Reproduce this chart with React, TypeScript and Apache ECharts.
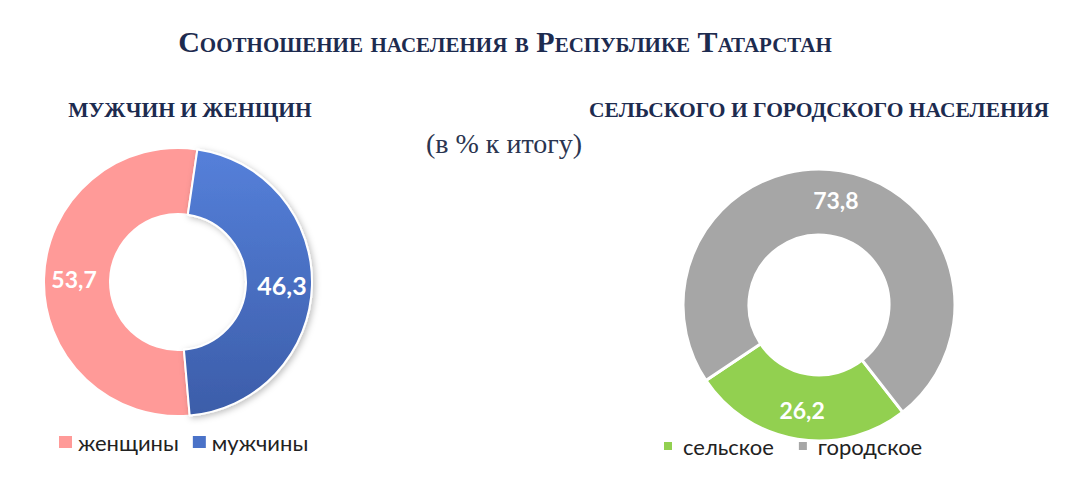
import { useRef, useEffect } from "react";
import * as echarts from "echarts";

const sexNames = ["женщины", "мужчины"];
const sexValues = [53.7, 46.3];
const areaNames = ["сельское", "городское"];
const areaValues = [26.2, 73.8];

const mainTitle = "Соотношение населения в Республике Татарстан";
const leftTitle = "МУЖЧИН И ЖЕНЩИН";
const rightTitle = "СЕЛЬСКОГО И ГОРОДСКОГО НАСЕЛЕНИЯ";
const unitNote = "(в % к итогу)";

const NAVY = "#1d2b4f";
const blueGrad = {
    type: "linear",
    x: 0,
    y: 0,
    x2: 0,
    y2: 1,
    colorStops: [
        { offset: 0, color: "#5580da" },
        { offset: 1, color: "#3c5da9" },
    ],
};

const fmt = (v: number) => String(v).replace(".", ",");

function App() {
    const chartRef = useRef<HTMLDivElement | null>(null);

    useEffect(() => {
        if (!chartRef.current) return;
        const chart = echarts.init(chartRef.current, null, { renderer: "svg" });

        const labelStyle = {
            show: true,
            position: "inside",
            color: "#fff",
            fontFamily: "Lato",
            fontWeight: "bold",
            fontSize: 23,
            formatter: (p: any) => fmt(p.value),
        };

        const legendText = { fontFamily: "Lato", fontSize: 22, color: "#222" };

        chart.setOption({
            animation: false,
            backgroundColor: "#fff",
            graphic: [
                {
                    type: "text",
                    x: 505,
                    y: 41,
                    style: {
                        text: mainTitle,
                        font: "small-caps bold 30px 'Liberation Serif'",
                        fill: NAVY,
                        textAlign: "center",
                        textVerticalAlign: "middle",
                    },
                },
                {
                    type: "text",
                    x: 190,
                    y: 110,
                    style: {
                        text: leftTitle,
                        font: "bold 21.5px 'Liberation Serif'",
                        fill: NAVY,
                        textAlign: "center",
                        textVerticalAlign: "middle",
                    },
                },
                {
                    type: "text",
                    x: 819,
                    y: 110,
                    style: {
                        text: rightTitle,
                        font: "bold 21.5px 'Liberation Serif'",
                        fill: NAVY,
                        textAlign: "center",
                        textVerticalAlign: "middle",
                    },
                },
                {
                    type: "text",
                    x: 504,
                    y: 143,
                    style: {
                        text: unitNote,
                        font: "28px 'Liberation Serif'",
                        fill: "#2b3550",
                        textAlign: "center",
                        textVerticalAlign: "middle",
                    },
                },
            ],
            legend: [
                {
                    left: 57,
                    top: 431,
                    padding: 0,
                    itemWidth: 15,
                    itemHeight: 14,
                    itemGap: 12,
                    icon: "rect",
                    textStyle: legendText,
                    data: [
                        { name: sexNames[0], itemStyle: { color: "#ff9a98" } },
                        { name: sexNames[1], itemStyle: { color: "#4a72c8" } },
                    ],
                },
                {
                    left: 662,
                    top: 435,
                    padding: 0,
                    itemWidth: 10,
                    itemHeight: 10,
                    itemGap: 23,
                    icon: "rect",
                    textStyle: { ...legendText, padding: [0, 0, 0, 5] },
                    data: areaNames,
                },
            ],
            series: [
                {
                    type: "pie",
                    center: [178, 282],
                    radius: [68, 134],
                    startAngle: 275,
                    clockwise: true,
                    avoidLabelOverlap: false,
                    itemStyle: { borderColor: "#fff", borderWidth: 2 },
                    label: labelStyle,
                    labelLine: { show: false },
                    emphasis: { disabled: true },
                    data: [
                        { name: sexNames[0], value: sexValues[0], itemStyle: { color: "#ff9a98" } },
                        {
                            name: sexNames[1],
                            value: sexValues[1],
                            label: { fontSize: 25 },
                            itemStyle: {
                                color: blueGrad,
                                shadowBlur: 6,
                                shadowOffsetX: 2,
                                shadowOffsetY: 2,
                                shadowColor: "rgba(0,0,0,0.25)",
                            },
                        },
                    ],
                },
                {
                    type: "pie",
                    center: [819, 305],
                    radius: [70, 136],
                    startAngle: 308,
                    clockwise: true,
                    avoidLabelOverlap: false,
                    itemStyle: { borderColor: "#fff", borderWidth: 3 },
                    label: labelStyle,
                    labelLine: { show: false },
                    emphasis: { disabled: true },
                    data: [
                        { name: areaNames[0], value: areaValues[0], itemStyle: { color: "#92d050" } },
                        { name: areaNames[1], value: areaValues[1], itemStyle: { color: "#a6a6a6" } },
                    ],
                },
            ],
        });

        return () => {
            chart.dispose();
        };
    }, []);

    return (
        <div
            ref={chartRef}
            style={{
                position: "fixed",
                left: 0,
                top: 0,
                width: "1080px",
                height: "495px",
                background: "#fff",
            }}
        />
    );
}

export default App;
